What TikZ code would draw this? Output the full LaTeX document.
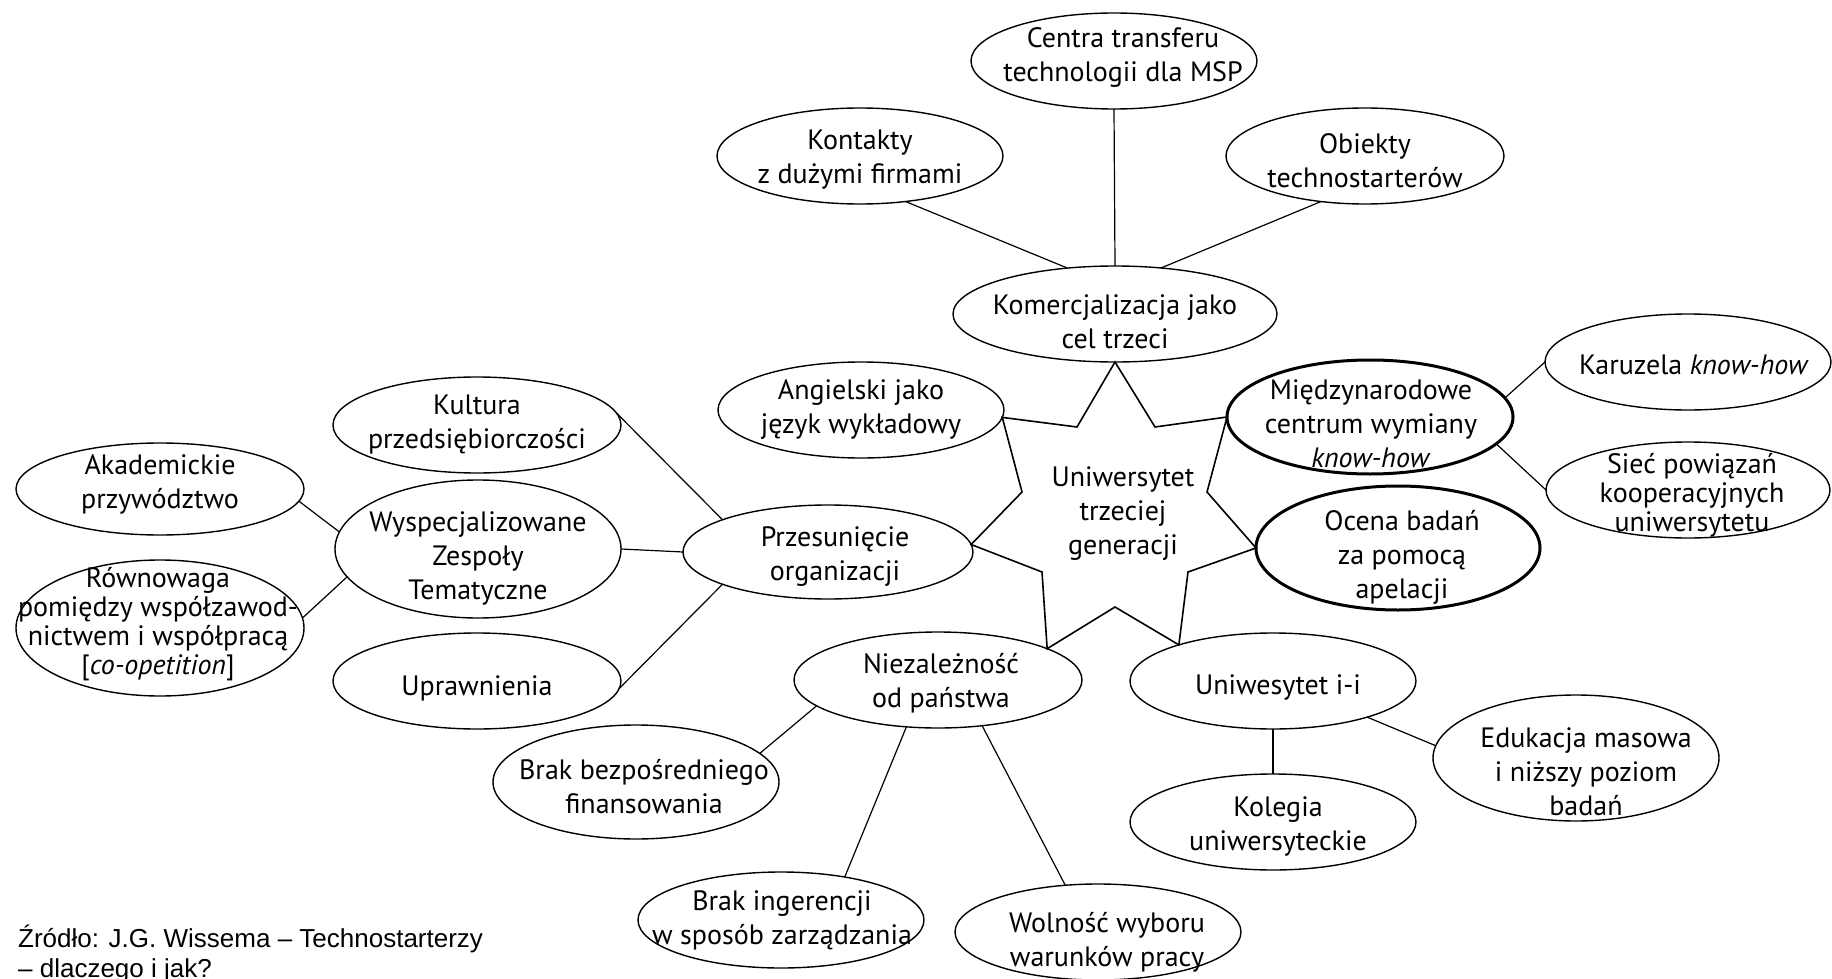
\documentclass[tikz,border=0pt]{standalone}
\usepackage{fontspec}
\setmainfont{PT Sans}
\newfontfamily\srcfont{Liberation Sans}
\usetikzlibrary{shapes.geometric}
\begin{document}
\begin{tikzpicture}[x=1pt,y=-1pt,
  ell/.style={ellipse, draw=black, line width=1.4pt, fill=white, inner sep=0pt, outer sep=0pt},
  ellthick/.style={ell, line width=3pt},
  lbl/.style={align=center, font=\fontsize{28}{34}\selectfont, inner sep=0pt},
  lbltight/.style={align=center, font=\fontsize{28}{29}\selectfont, inner sep=0pt},
  conn/.style={draw=black, line width=1.2pt},
  starline/.style={draw=black, line width=1.6pt, line join=miter},
  srctext/.style={anchor=base west, font=\srcfont\fontsize{26}{30}\selectfont, inner sep=0pt}
]
\useasboundingbox (0,0) rectangle (1832,979);
\fill[white] (0,0) rectangle (1832,979);

% ellipses
\node[ell, minimum width=286pt, minimum height=96pt] (centra) at (1114,61) {};
\node[ell, minimum width=286pt, minimum height=96pt] (kont) at (860,156) {};
\node[ell, minimum width=278pt, minimum height=96pt] (obie) at (1365,156) {};
\node[ell, minimum width=324pt, minimum height=96pt] (komerc) at (1115,314) {};
\node[ell, minimum width=286pt, minimum height=96pt] (angiel) at (861,410) {};
\node[ell, minimum width=288pt, minimum height=96pt] (kult) at (477,425) {};
\node[ell, minimum width=288pt, minimum height=92pt] (akad) at (160,489) {};
\node[ell, minimum width=286pt, minimum height=138pt] (wysp) at (478,549) {};
\node[ell, minimum width=288pt, minimum height=136pt] (rown) at (160,628) {};
\node[ell, minimum width=288pt, minimum height=96pt] (upraw) at (477,681) {};
\node[ell, minimum width=290pt, minimum height=94pt] (przes) at (828,552) {};
\node[ell, minimum width=288pt, minimum height=96pt] (niez) at (938,680) {};
\node[ell, minimum width=286pt, minimum height=96pt] (uniw) at (1273,681) {};
\node[ell, minimum width=286pt, minimum height=114pt] (brakb) at (636,782) {};
\node[ell, minimum width=286pt, minimum height=96pt] (braki) at (781,920) {};
\node[ell, minimum width=286pt, minimum height=96pt] (woln) at (1098,932) {};
\node[ell, minimum width=286pt, minimum height=96pt] (kol) at (1273,822) {};
\node[ell, minimum width=286pt, minimum height=126pt] (eduk) at (1576,758) {};
\node[ellthick, minimum width=284pt, minimum height=124pt] (ocena) at (1398,548) {};
\node[ellthick, minimum width=286pt, minimum height=114pt] (miedz) at (1370,417) {};
\node[ell, minimum width=286pt, minimum height=96pt] (karuz) at (1688,362) {};
\node[ell, minimum width=284pt, minimum height=96pt] (siec) at (1688,490) {};

% star (inner vertices)
\coordinate (s1) at (1077,427);
\coordinate (s2) at (1022,492);
\coordinate (s3) at (1042,572);
\coordinate (s4) at (1115,607);
\coordinate (s5) at (1188,572);
\coordinate (s6) at (1207,492);
\coordinate (s7) at (1155,427);
\draw[starline] (komerc.south) -- (s1) -- (angiel.-3) -- (s2) -- (przes.3) -- (s3)
  -- (niez.16) -- (s4) -- (uniw.159) -- (s5) -- (ocena.west) -- (s6)
  -- (miedz.west) -- (s7) -- cycle;

% connectors
\draw[conn] (centra.south) -- (komerc.north);
\draw[conn] (kont.315) -- (komerc.136);
\draw[conn] (obie.226) -- (komerc.45);
\draw[conn] (kult.5) -- (przes.163);
\draw[conn] (wysp.east) -- (przes.west);
\draw[conn] (upraw.357) -- (przes.197);
\draw[conn] (akad.355) -- (wysp.173);
\draw[conn] (rown.4) -- (wysp.192);
\draw[conn] (niez.192) -- (brakb.13);
\draw[conn] (niez.236) -- (braki.34);
\draw[conn] (niez.314) -- (woln.125);
\draw[conn] (uniw.south) -- (kol.north);
\draw[conn] (uniw.339) -- (eduk.175);
\draw[conn] (miedz.8) -- (karuz.west);
\draw[conn] (miedz.348) -- (siec.west);

% texts
\node[lbl] (centraT) at (1123,58) {Centra transferu\\technologii dla MSP};
\node[lbl] (kontT) at (860,160) {Kontakty\\z dużymi firmami};
\node[lbl] (obieT) at (1365,161) {Obiekty\\technostarterów};
\node[lbl] (komercT) at (1115,322) {Komercjalizacja jako\\cel trzeci};
\node[lbl] (angielT) at (861,410) {Angielski jako\\język wykładowy};
\node[lbl] (kultT) at (477,424) {Kultura\\przedsiębiorczości};
\node[lbl] (akadT) at (160,484) {Akademickie\\przywództwo};
\node[lbl] (wyspT) at (478,558) {Wyspecjalizowane\\Zespoły\\Tematyczne};
\node[lbltight] (rownT) at (158,624) {Równowaga\\pomiędzy współzawod-\\nictwem i współpracą\\{[}\textit{co-opetition}{]}};
\node[lbl] (uprawT) at (477,688) {Uprawnienia};
\node[lbl] (przesT) at (835,557) {Przesunięcie\\organizacji};
\node[lbl] (niezT) at (941,683) {Niezależność\\od państwa};
\node[lbl] (uniwT) at (1278,687) {Uniwesytet i-i};
\node[lbl] (brakbT) at (644,787) {Brak bezpośredniego\\finansowania};
\node[lbl] (brakiT) at (782,920) {Brak ingerencji\\w sposób zarządzania};
\node[lbl] (wolnT) at (1107,942) {Wolność wyboru\\warunków pracy};
\node[lbl] (kolT) at (1278,826) {Kolegia\\uniwersyteckie};
\node[lbl] (edukT) at (1586,772) {Edukacja masowa\\i niższy poziom\\badań};
\node[lbl] (ocenaT) at (1402,557) {Ocena badań\\za pomocą\\apelacji};
\node[lbl] (miedzT) at (1371,424) {Międzynarodowe\\centrum wymiany\\\textit{know-how}};
\node[lbl] (karuzT) at (1694,365) {Karuzela \textit{know-how}};
\node[lbltight] (siecT) at (1692,495) {Sieć powiązań\\kooperacyjnych\\uniwersytetu};
\node[lbl] (uni3T) at (1123,514) {Uniwersytet\\trzeciej\\generacji};

% source
\node[srctext] (src1) at (18,947) {Źródło: J.G. Wissema – Technostarterzy};
\node[srctext] (src2) at (18,977) {– dlaczego i jak?};
\end{tikzpicture}
\end{document}
